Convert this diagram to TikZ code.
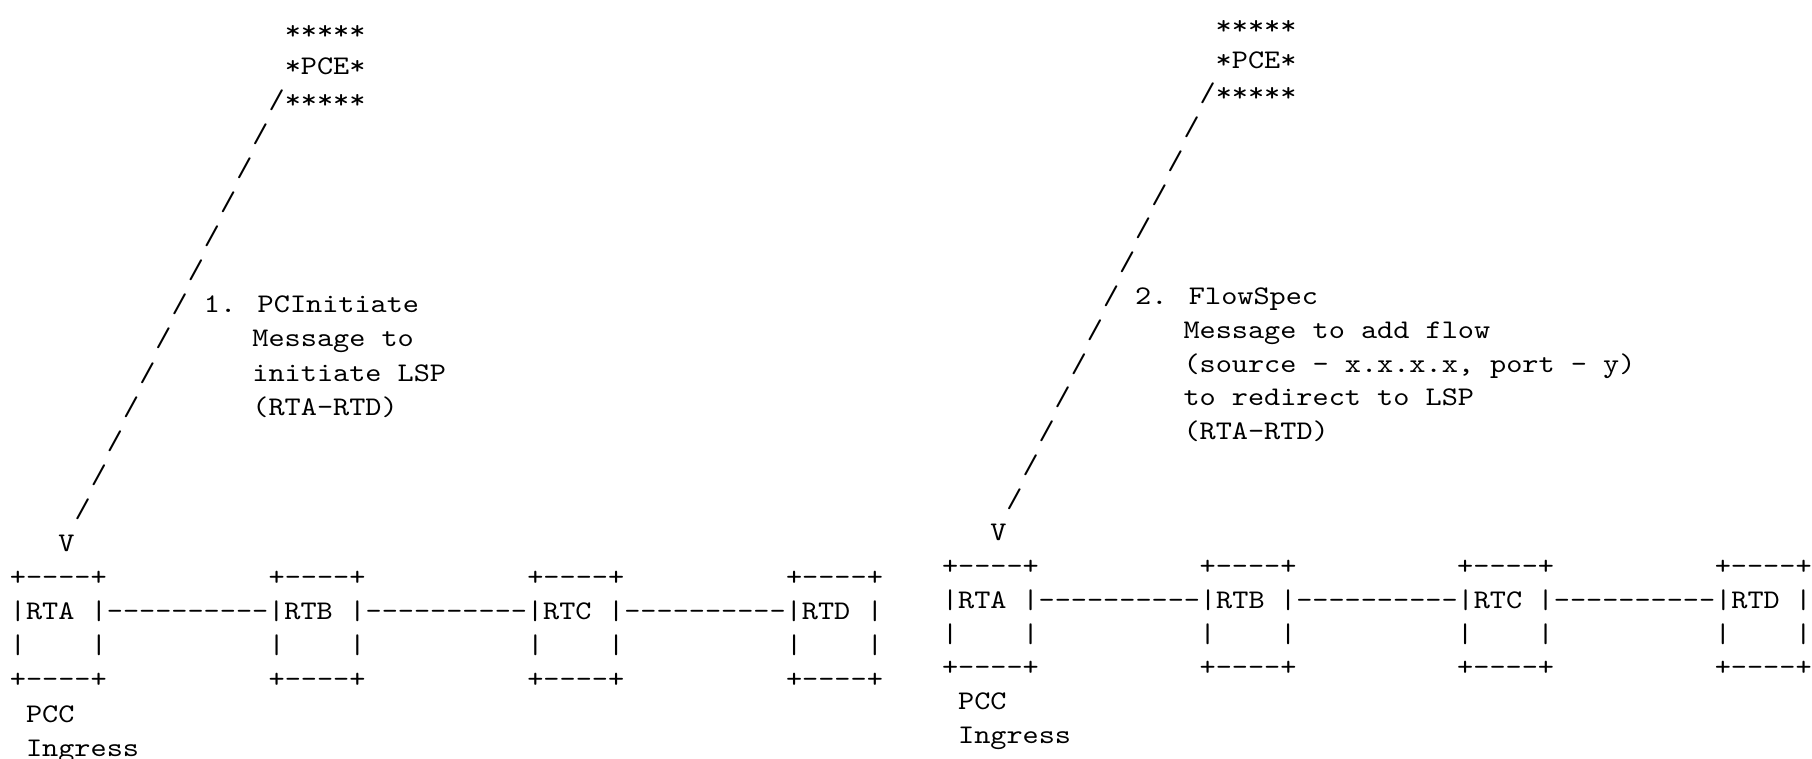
\documentclass[tikz,border=0pt]{standalone}
\usepackage{fontspec}
\newfontfamily\courfont{lmmono10-regular}[Extension=.otf,FakeStretch=1.143]
\begin{document}
\begin{tikzpicture}[x=1pt,y=-1pt,
  txt/.style={anchor=base west,inner sep=0pt,outer sep=0pt,text=black,
    font=\courfont\fontsize{26.9}{30}\selectfont}]
\useasboundingbox (0,0) rectangle (1812,759);
% ---------- left diagram ----------
\def\xo{9.9}\def\yo{40}\def\cw{16.17}\def\lh{34.1}
\newcommand\asc[4]{\node[txt] (#1) at ({\xo+#2*\cw},{\yo+#3*\lh}) {#4};}
\asc{aS0}{17}{0}{*****}
\asc{aPCE}{17}{1}{*PCE*}
\asc{aS2}{16}{2}{/*****}
\foreach \r in {3,...,14}{\pgfmathtruncatemacro\c{18-\r}\asc{as\r}{\c}{\r}{/}}
\asc{aL1}{12}{8}{1. PCInitiate}
\asc{aL2}{15}{9}{Message to}
\asc{aL3}{15}{10}{initiate LSP}
\asc{aL4}{15}{11}{(RTA-RTD)}
\asc{aV}{3}{15}{V}
\foreach \k/\n in {0/A,16/B,32/C,48/D}{\asc{aT\n}{\k}{16}{+----+}\asc{aB\n}{\k}{19}{+----+}}
\asc{aRTA}{0}{17}{|RTA}
\asc{aRTB}{5}{17}{|----------|RTB}
\asc{aRTC}{21}{17}{|----------|RTC}
\asc{aRTD}{37}{17}{|----------|RTD}
\asc{aEnd}{53}{17}{|}
\foreach \k in {0,5,16,21,32,37,48,53}{\asc{av\k}{\k}{18}{|}}
\asc{aPCC}{1}{20}{PCC}
\asc{aIng}{1}{21}{Ingress}
% ---------- right diagram ----------
\def\xo{942}\def\yo{34.5}\def\cw{16.1}\def\lh{33.75}
\asc{bS0}{17}{0}{*****}
\asc{bPCE}{17}{1}{*PCE*}
\asc{bS2}{16}{2}{/*****}
\foreach \r in {3,...,14}{\pgfmathtruncatemacro\c{18-\r}\asc{bs\r}{\c}{\r}{/}}
\asc{bL1}{12}{8}{2. FlowSpec}
\asc{bL2}{15}{9}{Message to add flow}
\asc{bL3}{15}{10}{(source - x.x.x.x, port - y)}
\asc{bL4}{15}{11}{to redirect to LSP}
\asc{bL5}{15}{12}{(RTA-RTD)}
\asc{bV}{3}{15}{V}
\foreach \k/\n in {0/A,16/B,32/C,48/D}{\asc{bT\n}{\k}{16}{+----+}\asc{bB\n}{\k}{19}{+----+}}
\asc{bRTA}{0}{17}{|RTA}
\asc{bRTB}{5}{17}{|----------|RTB}
\asc{bRTC}{21}{17}{|----------|RTC}
\asc{bRTD}{37}{17}{|----------|RTD}
\asc{bEnd}{53}{17}{|}
\foreach \k in {0,5,16,21,32,37,48,53}{\asc{bv\k}{\k}{18}{|}}
\asc{bPCC}{1}{20}{PCC}
\asc{bIng}{1}{21}{Ingress}
\end{tikzpicture}
\end{document}
